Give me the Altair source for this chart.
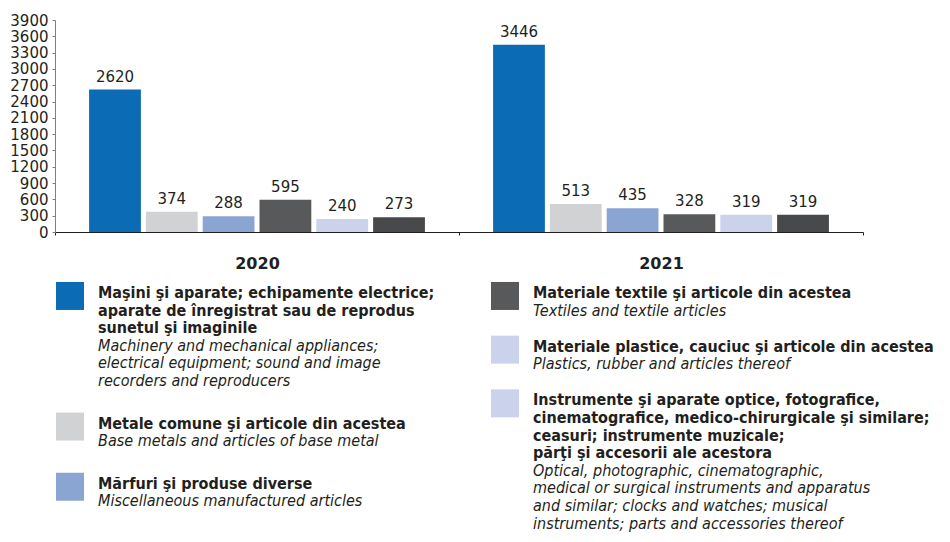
import altair as alt
import pandas as pd

years = ["2020", "2021"]
categories = ["masini", "metale", "marfuri", "textile", "plastice", "instrumente"]
values_2020 = [2620, 374, 288, 595, 240, 273]
values_2021 = [3446, 513, 435, 328, 319, 319]
bar_colors = ["#0c6bb5", "#d1d2d3", "#8ba5d3", "#58595b", "#cbd3ec", "#48494b"]
legend_colors = ["#0c6bb5", "#d1d2d3", "#8ba5d3", "#58595b", "#cbd3ec", "#cbd3ec"]
legend_column = [0, 0, 0, 1, 1, 1]
legend_ro = [
    ["Maşini şi aparate; echipamente electrice;",
     "aparate de înregistrat sau de reprodus",
     "sunetul şi imaginile"],
    ["Metale comune şi articole din acestea"],
    ["Mărfuri şi produse diverse"],
    ["Materiale textile şi articole din acestea"],
    ["Materiale plastice, cauciuc şi articole din acestea"],
    ["Instrumente şi aparate optice, fotografice,",
     "cinematografice, medico-chirurgicale şi similare;",
     "ceasuri; instrumente muzicale;",
     "părţi şi accesorii ale acestora"],
]
legend_en = [
    ["Machinery and mechanical appliances;",
     "electrical equipment; sound and image",
     "recorders and reproducers"],
    ["Base metals and articles of base metal"],
    ["Miscellaneous manufactured articles"],
    ["Textiles and textile articles"],
    ["Plastics, rubber and articles thereof"],
    ["Optical, photographic, cinematographic,",
     "medical or surgical instruments and apparatus",
     "and similar; clocks and watches; musical",
     "instruments; parts and accessories thereof"],
]

FONT_NUM = "DejaVu Sans"
FONT_LEG = "Liberation Sans Narrow, DejaVu Sans Condensed, sans-serif"
TEXT_COLOR = "#231f20"

# ---- bar data
rows = []
for yr, vals in zip(years, [values_2020, values_2021]):
    for c, v in zip(categories, vals):
        rows.append({"year": yr, "cat": c, "value": v})
df = pd.DataFrame(rows)

base = alt.Chart(df).encode(
    x=alt.X("year:N", sort=years,
            scale=alt.Scale(paddingInner=0, paddingOuter=0),
            axis=alt.Axis(title=None, labelAngle=0, labelFont=FONT_NUM,
                          labelFontWeight="bold", labelFontSize=16,
                          labelColor=TEXT_COLOR, labelPadding=20,
                          tickBand="extent", tickSize=3, tickColor="#231f20",
                          domainColor="#231f20", domainWidth=1.2)),
    xOffset=alt.XOffset("cat:N", sort=categories,
                        scale=alt.Scale(paddingInner=0.088, paddingOuter=0.6)),
    y=alt.Y("value:Q",
            scale=alt.Scale(domain=[0, 3900], nice=False),
            axis=alt.Axis(title=None, values=list(range(0, 3901, 300)),
                          format="d",
                          labelFont=FONT_NUM, labelFontSize=15,
                          labelColor=TEXT_COLOR, labelPadding=4,
                          tickSize=3, tickColor="#808080",
                          domainColor="#808080", grid=False,
                          minExtent=47, maxExtent=47)),
)
bars = base.mark_bar().encode(
    color=alt.Color("cat:N", sort=categories,
                    scale=alt.Scale(domain=categories, range=bar_colors),
                    legend=None)
)
labels = base.mark_text(baseline="alphabetic", dy=-8, font=FONT_NUM,
                        fontSize=15, color=TEXT_COLOR).encode(text="value:Q")
bar_chart = alt.layer(bars, labels).properties(width=808, height=212)

# ---- legend layout (line indices computed from the texts)
GAP = {0: 1.42, 1: 1.05}
sq_rows, txt_rows = [], []
line = {0: 0.0, 1: 0.0}
for i, c in enumerate(categories):
    col = legend_column[i]
    ln = line[col]
    sq_rows.append({"cat": c, "col": col, "line": ln + 0.17})
    for t in legend_ro[i]:
        txt_rows.append({"col": col, "line": ln, "text": t, "style": "ro"})
        ln += 1
    for t in legend_en[i]:
        txt_rows.append({"col": col, "line": ln, "text": t, "style": "en"})
        ln += 1
    line[col] = ln + GAP[col]

LINE_PX = 17.6
d0 = -0.68
d1 = max(r["line"] for r in txt_rows) + 0.4
leg_x = alt.X("col:Q", scale=alt.Scale(domain=[0, 1], range=[15, 450]), axis=None)
leg_y = alt.Y("line:Q", scale=alt.Scale(domain=[d0, d1], reverse=True, nice=False, zero=False), axis=None)

squares = alt.Chart(pd.DataFrame(sq_rows)).mark_square(size=784, opacity=1).encode(
    x=leg_x, y=leg_y,
    color=alt.Color("cat:N", scale=alt.Scale(domain=categories, range=legend_colors), legend=None),
)
tdf = pd.DataFrame(txt_rows)
ro_text = alt.Chart(tdf).transform_filter(alt.datum.style == "ro").mark_text(
    align="left", baseline="middle", dx=28, font=FONT_LEG, fontSize=16,
    fontWeight="bold", color=TEXT_COLOR
).encode(x=leg_x, y=leg_y, text="text:N")
en_text = alt.Chart(tdf).transform_filter(alt.datum.style == "en").mark_text(
    align="left", baseline="middle", dx=28, font=FONT_LEG, fontSize=16,
    fontStyle="italic", color=TEXT_COLOR
).encode(x=leg_x, y=leg_y, text="text:N")
legend_chart = alt.layer(squares, ro_text, en_text).properties(
    width=808, height=(d1 - d0) * LINE_PX)

chart = alt.vconcat(bar_chart, legend_chart, spacing=10).properties(
    padding={"left": 0, "top": 5, "right": 0, "bottom": 0}
).configure_view(stroke=None).resolve_scale(color="independent")

chart.save("out.html", embed_options={"renderer": "svg", "actions": False})
